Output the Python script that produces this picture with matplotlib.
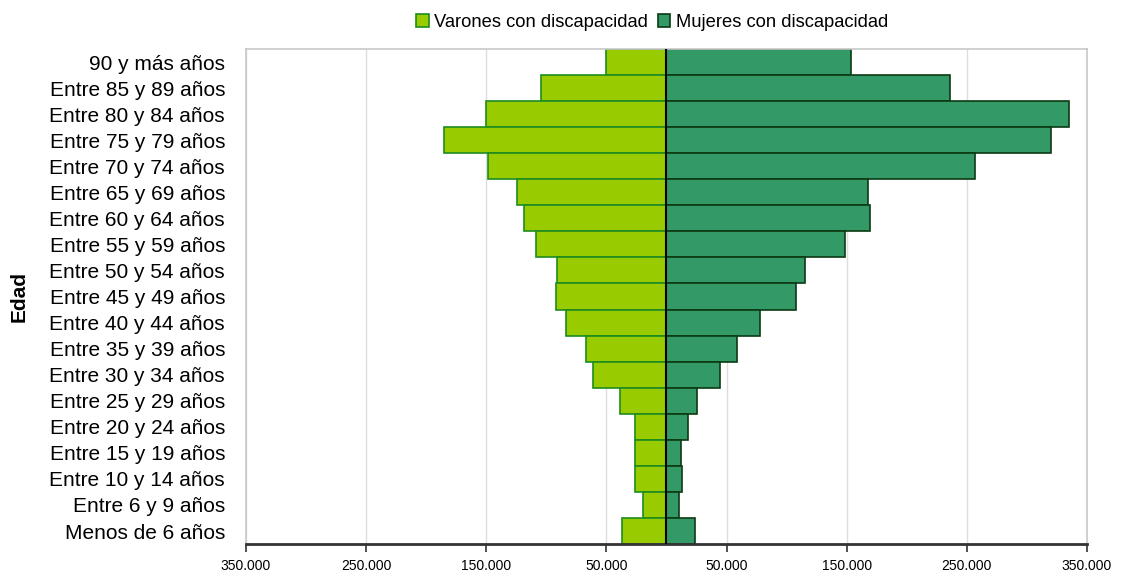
import matplotlib.pyplot as plt
import numpy as np

plt.rcParams['font.family'] = ['Liberation Sans', 'DejaVu Sans']

# edad, de arriba hacia abajo en el grafico
grupos = ["90 y más años", "Entre 85 y 89 años", "Entre 80 y 84 años",
          "Entre 75 y 79 años", "Entre 70 y 74 años", "Entre 65 y 69 años",
          "Entre 60 y 64 años", "Entre 55 y 59 años", "Entre 50 y 54 años",
          "Entre 45 y 49 años", "Entre 40 y 44 años", "Entre 35 y 39 años",
          "Entre 30 y 34 años", "Entre 25 y 29 años", "Entre 20 y 24 años",
          "Entre 15 y 19 años", "Entre 10 y 14 años", "Entre 6 y 9 años",
          "Menos de 6 años"]

varones = [50400, 104500, 150000, 185000, 148800, 124400, 118600, 108600,
           91100, 92000, 83700, 67000, 61400, 38500, 26500, 26500, 26500,
           19300, 37300]
mujeres = [153600, 236200, 334800, 320300, 256500, 167700, 169400, 148600,
           115300, 107800, 77800, 58700, 44500, 25100, 18100, 11800, 13200,
           10700, 24000]

ticks = [-350000, -250000, -150000, -50000, 50000, 150000, 250000, 350000]
tick_labels = ["350.000", "250.000", "150.000", "50.000", "50.000",
               "150.000", "250.000", "350.000"]

fig = plt.figure(figsize=(11.21, 5.79), dpi=100)
ax = fig.add_axes([0.2194, 0.0604, 0.7502, 0.855])

y = np.arange(len(grupos))[::-1]
ax.barh(y, -np.array(varones), height=1.0, color='#99CC00',
        edgecolor='#1E8C1E', linewidth=1.2, label='Varones con discapacidad', zorder=2)
ax.barh(y, mujeres, height=1.0, color='#339966',
        edgecolor='#0B3B12', linewidth=1.2, label='Mujeres con discapacidad', zorder=2)
ax.axvline(0, color='black', lw=1.5, zorder=3)

ax.set_xlim(-350000, 350000)
ax.set_ylim(-0.5, len(grupos) - 0.5)
ax.set_yticks(y)
ax.set_yticklabels(grupos, fontsize=15)
ax.tick_params(axis='y', length=0, pad=15)
ax.set_xticks(ticks)
ax.set_xticklabels(tick_labels, fontsize=10)
ax.tick_params(axis='x', direction='out', length=6, width=1.2, color='#333333', pad=5)
ax.grid(axis='x', color='#DDDDDD', lw=1, zorder=0)

for s in ['top', 'right', 'left']:
    ax.spines[s].set_color('#C8C8C8')
    ax.spines[s].set_linewidth(1.2)
ax.spines['bottom'].set_color('#333333')
ax.spines['bottom'].set_linewidth(2)

ax.set_ylabel('Edad', fontsize=15, fontweight='bold')
ax.yaxis.set_label_coords(-0.259, 0.5)

ax.legend(loc='upper center', bbox_to_anchor=(0.483, 1.105), ncol=2, frameon=False,
          fontsize=13.2, handlelength=0.7, handleheight=0.7, handletextpad=0.3,
          columnspacing=0.5)

plt.savefig('out.png', dpi=100)
